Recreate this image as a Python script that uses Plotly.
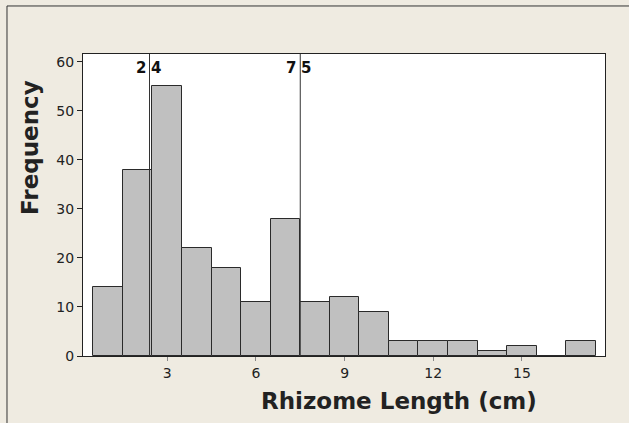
import plotly.graph_objects as go

# Histogram of rhizome lengths (bin width 1 cm, centred on whole numbers)
bin_centers = [1, 2, 3, 4, 5, 6, 7, 8, 9, 10, 11, 12, 13, 14, 15, 16, 17]
frequencies = [14, 38, 55, 22, 18, 11, 28, 11, 12, 9, 3, 3, 3, 1, 2, 0, 3]
x_tick_vals = [3, 6, 9, 12, 15]
y_tick_vals = [0, 10, 20, 30, 40, 50, 60]
reference_lines = [2.4, 7.5]

fig = go.Figure()
fig.add_trace(go.Bar(
    x=bin_centers, y=frequencies, width=1.0,
    marker=dict(color="#C0C0C0", line=dict(color="#2a2a2a", width=1)),
    showlegend=False,
))

for v in reference_lines:
    fig.add_shape(type="line", xref="x", yref="paper", x0=v, x1=v, y0=0, y1=1,
                  line=dict(color="#333333", width=1))
    whole, frac = f"{v:.1f}".split(".")
    fig.add_annotation(x=v, y=1, xref="x", yref="paper", text=f"<b>{whole}</b>",
                       showarrow=False, xanchor="right", yanchor="top", xshift=-2, yshift=-3,
                       font=dict(family="DejaVu Sans", size=15, color="#111111"))
    fig.add_annotation(x=v, y=1, xref="x", yref="paper", text=f"<b>{frac}</b>",
                       showarrow=False, xanchor="left", yanchor="top", xshift=-1, yshift=-3,
                       font=dict(family="DejaVu Sans", size=15, color="#111111"))

# axis titles
fig.add_annotation(x=0.605, y=-0.15, xref="paper", yref="paper", text="<b>Rhizome Length (cm)</b>",
                   showarrow=False, xanchor="center", yanchor="middle",
                   font=dict(family="DejaVu Sans", size=23, color="#222222"))
fig.add_annotation(x=-0.1015, y=0.689, xref="paper", yref="paper", text="<b>Frequency</b>",
                   showarrow=False, xanchor="center", yanchor="middle", textangle=-90,
                   font=dict(family="DejaVu Sans", size=23, color="#222222"))

# outer frame
fig.add_shape(type="rect", xref="paper", yref="paper", x0=-0.1456, x1=1.2, y0=-0.4, y1=1.159,
              line=dict(color="#333333", width=1), fillcolor="rgba(0,0,0,0)", layer="below")

fig.update_layout(
    width=629, height=423,
    margin=dict(l=83, r=24, t=54, b=67),
    paper_bgcolor="#EFEBE1", plot_bgcolor="white",
    bargap=0,
    font=dict(family="DejaVu Sans", color="#222222"),
    xaxis=dict(
        range=[0.15, 17.81], tickvals=x_tick_vals, ticks="outside", ticklen=4,
        tickcolor="#888888", showgrid=False, zeroline=False,
        showline=True, linecolor="#222222", mirror=True, linewidth=1,
        tickfont=dict(size=14, color="#222222"),
    ),
    yaxis=dict(
        range=[0, 61.6], tickvals=y_tick_vals, ticks="outside", ticklen=5,
        tickcolor="#222222", showgrid=False, zeroline=False,
        showline=True, linecolor="#222222", mirror=True, linewidth=1,
        tickfont=dict(size=14, color="#222222"),
    ),
)

fig.write_html("out.html")
